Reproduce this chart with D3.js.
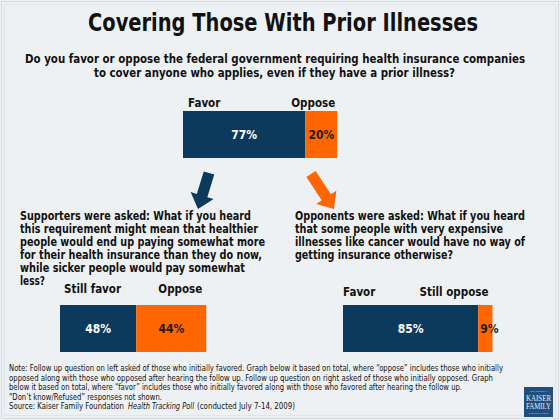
<!DOCTYPE html>
<html><head><meta charset="utf-8">
<script src="https://cdn.jsdelivr.net/npm/d3@7"></script>
<style>
html,body{margin:0;padding:0;background:#eef1f4;}
svg{display:block;}
</style></head>
<body>
<svg id="chart" width="560" height="420"></svg>
<script>
// ---- data ----
const titleText = "Covering Those With Prior Illnesses";
const questionLines = [
  "Do you favor or oppose the federal government requiring health insurance companies",
  "to cover anyone who applies, even if they have a prior illness?"
];
const topCategories = ["Favor", "Oppose"];
const topValues = [77, 20];
const leftQuestion = [
  "Supporters were asked: What if you heard",
  "this requirement might mean that healthier",
  "people would end up paying somewhat more",
  "for their health insurance than they do now,",
  "while sicker people would pay somewhat",
  "less?"
];
const leftCategories = ["Still favor", "Oppose"];
const leftValues = [48, 44];
const rightQuestion = [
  "Opponents were asked: What if you heard",
  "that some people with very expensive",
  "illnesses like cancer would have no way of",
  "getting insurance otherwise?"
];
const rightCategories = ["Favor", "Still oppose"];
const rightValues = [85, 9];
const noteLines = [
  "Note: Follow up question on left asked of those who initially favored. Graph below it based on total, where \u201coppose\u201d includes those who initially",
  "opposed along with those who opposed after hearing the follow up.  Follow up question on right asked of those who initially opposed. Graph",
  "below it based on total, where \u201cfavor\u201d includes those who initially favored along with those who favored after hearing the follow up.",
  "\u201cDon\u2019t know/Refused\u201d responses not shown."
];
const sourceParts = ["Source: Kaiser Family Foundation", "Health Tracking Poll", "(conducted July 7-14, 2009)"];

// ---- drawing ----
const NAVY = "#0b3a5d", ORANGE = "#ff6600", TXT = "#111";
const BOLD = "'DejaVu Sans Condensed', 'DejaVu Sans', sans-serif";
const svg = d3.select("#chart");

svg.append("rect").attr("width", 560).attr("height", 420).attr("fill", "#eef1f4");
svg.append("rect").attr("x", 1.5).attr("y", 1.5).attr("width", 557).attr("height", 417)
  .attr("fill", "none").attr("stroke", "#d6dce2");
svg.append("rect").attr("x", 4.5).attr("y", 4.5).attr("width", 551).attr("height", 411)
  .attr("fill", "none").attr("stroke", "#e0e5ea");

function fitText(sel, x, y, str, len, size, weight, anchor) {
  return sel.append("text").attr("x", x).attr("y", y).text(str)
    .attr("font-family", BOLD).attr("font-size", size).attr("font-weight", weight || "bold")
    .attr("fill", TXT).attr("text-anchor", anchor || "start")
    .attr("textLength", len).attr("lengthAdjust", "spacingAndGlyphs");
}

// Title
fitText(svg, 88, 31, titleText, 390, 24, "bold");
// Question
fitText(svg, 25, 63, questionLines[0], 500, 12);
fitText(svg, 94, 77, questionLines[1], 361, 12);

// Scale shared by all bars
const x = d3.scaleLinear().domain([0, 100]).range([0, 159]);

function label(g, xx, y, t, anchor) {
  g.append("text").attr("x", xx).attr("y", y).attr("text-anchor", anchor || "start").text(t)
    .attr("font-family", BOLD).attr("font-weight", "bold").attr("font-size", 11.5).attr("fill", TXT);
}

function stackedBar(x0, y0, h, cats, vals, labelY, labelPos) {
  const g = svg.append("g");
  let acc = 0;
  const segs = vals.map((v, i) => { const s = { cat: cats[i], v, start: acc }; acc += v; return s; });
  g.selectAll("rect").data(segs).join("rect")
    .attr("x", d => x0 + x(d.start)).attr("y", y0)
    .attr("width", d => x(d.v)).attr("height", h)
    .attr("fill", (d, i) => i === 0 ? NAVY : ORANGE);
  g.selectAll("text.val").data(segs).join("text").attr("class", "val")
    .attr("x", (d, i) => x0 + x(d.start) + x(d.v) / 2 + (i === 1 && d.v < 12 ? 4 : 0))
    .attr("y", y0 + h / 2 + 4.5)
    .attr("text-anchor", "middle")
    .attr("font-family", BOLD).attr("font-weight", "bold").attr("font-size", 12)
    .attr("fill", (d, i) => i === 0 ? "#fff" : "#231a12")
    .text(d => d.v + "%");
  labelPos(g, segs, x0, x(acc), labelY);
}

// top bar
stackedBar(183, 111, 47, topCategories, topValues, 107, (g, segs, x0, total, ly) => {
  label(g, x0 + 5, ly, segs[0].cat);
  label(g, x0 + total - 2, ly, segs[1].cat, "end");
});

// left bar
stackedBar(60, 305, 47, leftCategories, leftValues, 293, (g, segs, x0, total, ly) => {
  label(g, x0 + 4, ly, segs[0].cat);
  label(g, x0 + x(segs[1].start) + x(segs[1].v) / 2 + 9, ly, segs[1].cat, "middle");
});

// right bar
stackedBar(343, 305, 47, rightCategories, rightValues, 296, (g, segs, x0, total, ly) => {
  label(g, x0, ly, segs[0].cat);
  label(g, x0 + total - 4, ly, segs[1].cat, "end");
});

// follow-up questions
const leftWidths = [231, 238, 245, 242, 225, 25];
leftQuestion.forEach((s, i) => fitText(svg, 20, 220 + i * 13, s, leftWidths[i], 11.5));
const rightWidths = [230, 208, 230, 158];
rightQuestion.forEach((s, i) => fitText(svg, 295, 220 + i * 13, s, rightWidths[i], 11.5));

// arrows
function arrow(x0, y0, x1, y1, shaftW, headW, headL, color) {
  const dx = x1 - x0, dy = y1 - y0, L = Math.hypot(dx, dy);
  const ux = dx / L, uy = dy / L, px = -uy, py = ux;
  const b = L - headL;
  const pts = [
    [x0 + px * shaftW / 2, y0 + py * shaftW / 2],
    [x0 + ux * b + px * shaftW / 2, y0 + uy * b + py * shaftW / 2],
    [x0 + ux * b + px * headW / 2, y0 + uy * b + py * headW / 2],
    [x1, y1],
    [x0 + ux * b - px * headW / 2, y0 + uy * b - py * headW / 2],
    [x0 + ux * b - px * shaftW / 2, y0 + uy * b - py * shaftW / 2],
    [x0 - px * shaftW / 2, y0 - py * shaftW / 2]
  ];
  svg.append("path").attr("d", d3.line()(pts) + "Z").attr("fill", color);
}
arrow(209, 173, 198, 209, 11, 24, 14, NAVY);
arrow(311, 174, 334, 209, 11, 24, 14, ORANGE);

// notes
const noteWidths = [494, 484, 453, 153];
noteLines.forEach((s, i) => fitText(svg, 9, 371 + i * 9.5, s, noteWidths[i], 8, "normal"));
fitText(svg, 9, 409, sourceParts[0], 115, 8, "normal");
fitText(svg, 128, 409, sourceParts[1], 66, 8, "normal").attr("font-style", "italic");
fitText(svg, 197, 409, sourceParts[2], 98, 8, "normal");

// logo
const logo = svg.append("g");
logo.append("rect").attr("x", 524).attr("y", 387).attr("width", 29).attr("height", 30).attr("fill", "#1f4f7e");
const SERIF = "'Liberation Serif', 'DejaVu Serif', serif";
[["THE HENRY J.", 392, 2.5, 18], ["KAISER", 400.5, 7.5, 25], ["FAMILY", 408.5, 7.5, 25], ["FOUNDATION", 413.5, 2.5, 20]]
  .forEach(([t, y, fs, w]) => logo.append("text").attr("x", 538.5).attr("y", y).attr("text-anchor", "middle")
    .attr("font-family", SERIF).attr("font-size", fs).attr("fill", "#e8eef5")
    .attr("textLength", w).attr("lengthAdjust", "spacingAndGlyphs").text(t));
</script>
</body></html>
